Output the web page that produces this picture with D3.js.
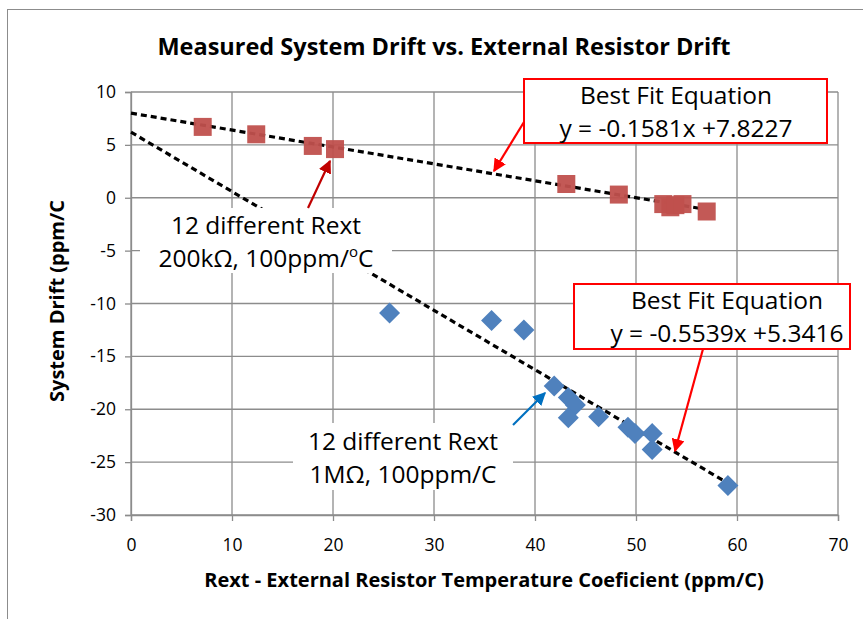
<!DOCTYPE html>
<html>
<head>
<meta charset="utf-8">
<script src="https://cdn.jsdelivr.net/npm/d3@7"></script>
<style>
  body { margin: 0; background: #fff; }
  svg { font-family: "Open Sans", Lato, sans-serif; }
</style>
</head>
<body>
<svg id="chart" width="863" height="619"></svg>
<script>
// 200k series (red squares)
const redX = [7.1, 12.4, 18.0, 20.2, 43.1, 48.3, 52.7, 53.4, 53.9, 54.6, 57.0];
const redY = [6.7, 6.0, 4.9, 4.6, 1.3, 0.3, -0.6, -0.9, -0.7, -0.6, -1.3];

// 1M series (blue diamonds)
const blueX = [25.6, 35.7, 38.9, 41.9, 43.3, 44.0, 43.3, 46.3, 49.2, 49.9, 51.6, 51.6, 59.1];
const blueY = [-10.9, -11.6, -12.5, -17.8, -18.9, -19.6, -20.8, -20.7, -21.7, -22.3, -22.3, -23.8, -27.2];

// dashed fit lines as drawn: [x0, y0, x1, y1]
const redFit = [0, 8.0, 56.6, -1.05];
const blueFit = [0, 6.2, 59.3, -27.1];

const xTicks = [0, 10, 20, 30, 40, 50, 60, 70];
const yTicks = [10, 5, 0, -5, -10, -15, -20, -25, -30];

const titleText = "Measured System Drift vs. External Resistor Drift";
const xTitle = "Rext - External Resistor Temperature Coeficient (ppm/C)";
const yTitle = "System Drift (ppm/C";

const svg = d3.select("#chart");

const x = d3.scaleLinear().domain([0, 70]).range([131, 838]);
const y = d3.scaleLinear().domain([-30, 10]).range([515, 92]);

// outer chart frame
svg.append("rect")
    .attr("x", 7.5).attr("y", 9.5)
    .attr("width", 900).attr("height", 700)
    .attr("fill", "#fff").attr("stroke", "#8c8c8c");

svg.append("text")
    .attr("x", 444).attr("y", 55)
    .attr("text-anchor", "middle")
    .attr("font-weight", "bold").attr("font-size", 23.5)
    .text(titleText);

// gridlines
const grid = svg.append("g").attr("stroke", "#8c8c8c").attr("stroke-width", 1.3);
grid.selectAll(".vg").data(xTicks).join("line")
    .attr("x1", d => x(d)).attr("x2", d => x(d))
    .attr("y1", y(10)).attr("y2", y(-30));
grid.selectAll(".hg").data(yTicks).join("line")
    .attr("x1", x(0)).attr("x2", x(70))
    .attr("y1", d => y(d)).attr("y2", d => y(d));

// axes
const xAxis = svg.append("g")
    .attr("transform", `translate(0,${y(-30)})`)
    .call(d3.axisBottom(x).tickValues(xTicks).tickSize(6).tickPadding(18).tickFormat(d3.format("d")));
const yAxis = svg.append("g")
    .attr("transform", `translate(${x(0)},0)`)
    .call(d3.axisLeft(y).tickValues(yTicks).tickSize(6).tickPadding(9).tickFormat(d => d < 0 ? "-" + Math.abs(d) : d));
[xAxis, yAxis].forEach(a => {
    a.select(".domain").attr("stroke", "#8c8c8c").attr("stroke-width", 1.3);
    a.selectAll(".tick line").attr("stroke", "#8c8c8c").attr("stroke-width", 1.3);
    a.selectAll("text").attr("font-size", 17.5).attr("font-family", "Open Sans").attr("fill", "#000");
});

svg.append("text")
    .attr("x", 484).attr("y", 587)
    .attr("text-anchor", "middle")
    .attr("font-weight", "bold").attr("font-size", 20)
    .text(xTitle);
svg.append("text")
    .attr("transform", "translate(64,301) rotate(-90)")
    .attr("text-anchor", "middle")
    .attr("font-weight", "bold").attr("font-size", 20)
    .text(yTitle);

// fit lines
[redFit, blueFit].forEach(f => {
    svg.append("line")
        .attr("x1", x(f[0])).attr("y1", y(f[1]))
        .attr("x2", x(f[2])).attr("y2", y(f[3]))
        .attr("stroke", "#000").attr("stroke-width", 3.2)
        .attr("stroke-dasharray", "6,4");
});

// markers
const sq = 18;
svg.append("g").selectAll("rect").data(d3.zip(redX, redY)).join("rect")
    .attr("x", d => x(d[0]) - sq / 2).attr("y", d => y(d[1]) - sq / 2)
    .attr("width", sq).attr("height", sq)
    .attr("fill", "#c0504d").attr("fill-opacity", 0.95);

svg.append("g").selectAll("path").data(d3.zip(blueX, blueY)).join("path")
    .attr("transform", d => `translate(${x(d[0])},${y(d[1])})`)
    .attr("d", "M0,-10.5L10.5,0L0,10.5L-10.5,0Z")
    .attr("fill", "#4f81bd");

// arrow heads
const defs = svg.append("defs");
[["arRed", "#ff0000"], ["arDark", "#c00000"], ["arBlue", "#0070c0"]].forEach(([id, c]) => {
    defs.append("marker")
        .attr("id", id).attr("viewBox", "0 0 10 10")
        .attr("refX", 9).attr("refY", 5)
        .attr("markerWidth", 6).attr("markerHeight", 6)
        .attr("markerUnits", "strokeWidth")
        .attr("orient", "auto")
        .append("path").attr("d", "M0,0L10,5L0,10Z").attr("fill", c);
});

// labels with white backgrounds
const noteSize = 24.5;
function label(bx, by, bw, bh, lines, cx, baseline, stroke) {
    svg.append("rect")
        .attr("x", bx).attr("y", by).attr("width", bw).attr("height", bh)
        .attr("fill", "#fff")
        .attr("stroke", stroke || "none").attr("stroke-width", 2);
    lines.forEach((t, i) => {
        svg.append("text")
            .attr("x", cx).attr("y", baseline + i * 33)
            .attr("text-anchor", "middle").attr("font-size", noteSize)
            .text(t);
    });
}

function arrow(x1, y1, x2, y2, c, id) {
    svg.append("line")
        .attr("x1", x1).attr("y1", y1).attr("x2", x2).attr("y2", y2)
        .attr("stroke", c).attr("stroke-width", 2.2)
        .attr("marker-end", `url(#${id})`);
}

label(140, 208, 252, 65, ["12 different Rext"], 266, 234);
svg.append("text")
    .attr("x", 266).attr("y", 267)
    .attr("text-anchor", "middle").attr("font-size", noteSize)
    .text("200kΩ, 100ppm/")
    .append("tspan").attr("font-size", 15).attr("dy", -10).text("o")
    .clone(true).attr("font-size", noteSize).attr("dy", 10).text("C");
arrow(308, 208, 330, 161, "#c00000", "arDark");

label(293, 423, 220, 67, ["12 different Rext", "1MΩ, 100ppm/C"], 403, 450);
arrow(513, 425, 545, 393, "#0070c0", "arBlue");

label(524, 79, 303, 64, ["Best Fit Equation", "y = -0.1581x +7.8227"], 676, 104, "#ff0000");
arrow(524, 122, 494, 171, "#ff0000", "arRed");

label(574, 284, 276, 65, ["Best Fit Equation", "y = -0.5539x +5.3416"], 727, 309, "#ff0000");
arrow(703, 349, 675, 451, "#ff0000", "arRed");
</script>
</body>
</html>
